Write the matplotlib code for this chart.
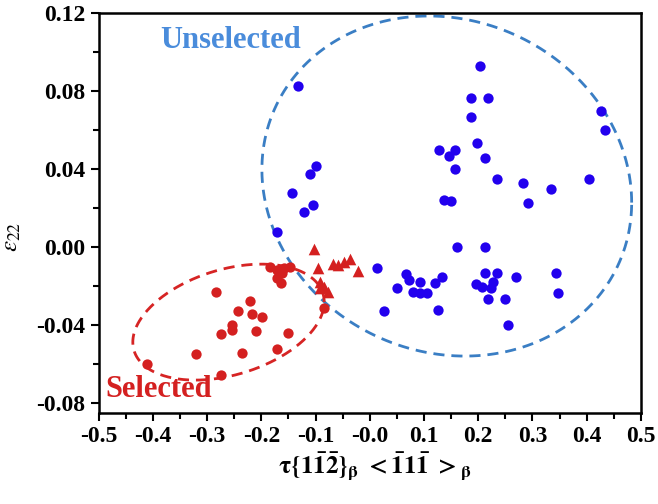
import numpy as np
import matplotlib.pyplot as plt

plt.rcParams['font.family'] = 'Liberation Serif'
plt.rcParams['mathtext.fontset'] = 'stix'

# unselected (blue circles)
blue_x = [-0.132, -0.099, -0.110, -0.143, -0.104, -0.121, -0.171,
          0.203, 0.187, 0.218, 0.187, 0.427, 0.434, 0.198, 0.127, 0.157,
          0.147, 0.213, 0.157, 0.234, 0.282, 0.334, 0.404, 0.292, 0.136,
          0.149, 0.160, 0.212, 0.014, 0.066, 0.073, 0.092, 0.133, 0.120,
          0.051, 0.079, 0.092, 0.106, 0.027, 0.125, 0.213, 0.234, 0.195,
          0.207, 0.227, 0.224, 0.269, 0.218, 0.250, 0.254, 0.343, 0.348]
blue_y = [0.0826, 0.0415, 0.0375, 0.0277, 0.0215, 0.0180, 0.0077,
          0.0930, 0.0764, 0.0764, 0.0665, 0.0700, 0.0600, 0.0535, 0.0497, 0.0497,
          0.0467, 0.0458, 0.0398, 0.0347, 0.0327, 0.0297, 0.0349, 0.0227, 0.0241,
          0.0234, 0.0000, 0.0000, -0.0108, -0.0138, -0.0169, -0.0180, -0.0156, -0.0186,
          -0.0212, -0.0230, -0.0238, -0.0238, -0.0327, -0.0323, -0.0135, -0.0135, -0.0190,
          -0.0203, -0.0178, -0.0212, -0.0156, -0.0268, -0.0265, -0.0402, -0.0135, -0.0238]

# selected (red circles)
red_x = [-0.184, -0.172, -0.159, -0.147, -0.162, -0.172, -0.164, -0.284,
         -0.221, -0.244, -0.217, -0.199, -0.255, -0.255, -0.275, -0.209,
         -0.151, -0.085, -0.321, -0.235, -0.172, -0.410, -0.275]
red_y = [-0.0101, -0.0118, -0.0109, -0.0101, -0.0135, -0.0161, -0.0183, -0.0232,
         -0.0275, -0.0327, -0.0345, -0.0357, -0.0400, -0.0426, -0.0446, -0.0431,
         -0.0439, -0.0311, -0.0549, -0.0545, -0.0525, -0.0602, -0.0656]

# selected (red triangles)
tri_x = [-0.103, -0.095, -0.067, -0.058, -0.048, -0.036, -0.021,
         -0.091, -0.085, -0.078, -0.091]
tri_y = [-0.0010, -0.0106, -0.0089, -0.0092, -0.0075, -0.0063, -0.0121,
         -0.0178, -0.0203, -0.0229, -0.0212]


def ellipse(cx, cy, ux, uy, vy, n=400):
    t = np.linspace(0, 2 * np.pi, n)
    return cx + ux * np.cos(t), cy + uy * np.cos(t) + vy * np.sin(t)


fig = plt.figure(figsize=(6.58, 5.04), dpi=100)
ax = fig.add_axes([0.150, 0.181, 0.824, 0.793])

ex, ey = ellipse(0.142, 0.0313, 0.341, -0.0085, 0.0868)
ax.plot(ex, ey, color='#3a7ec4', lw=2, dashes=(4, 2.5))
ex, ey = ellipse(-0.2606, -0.0385, 0.1765, 0.0103, 0.0279)
ax.plot(ex, ey, color='#d62424', lw=2, dashes=(4, 2.5))

ax.scatter(blue_x, blue_y, s=55, color='#2200ee', zorder=3, lw=0)
ax.scatter(red_x, red_y, s=55, color='#d42020', zorder=3, lw=0)
ax.scatter(tri_x, tri_y, s=70, marker='^', color='#d42020', zorder=3, lw=0)

ax.text(0.2435, 0.932, 'Unselected', transform=ax.transAxes, ha='center', va='center',
        fontsize=22, fontweight='bold', color='#4a8cdb')
ax.text(0.111, 0.057, 'Selected', transform=ax.transAxes, ha='center', va='center',
        fontsize=22, fontweight='bold', color='#d42020')

ax.set_xlim(-0.5, 0.5)
ax.set_ylim(-0.085, 0.12)
ax.set_xticks(np.arange(-0.5, 0.51, 0.1))
ax.set_yticks([-0.08, -0.04, 0.00, 0.04, 0.08, 0.12])
ax.set_xticks(np.arange(-0.45, 0.5, 0.1), minor=True)
ax.set_yticks([-0.06, -0.02, 0.02, 0.06, 0.10], minor=True)
ax.set_xticklabels(['%.1f' % v for v in np.arange(-0.5, 0.51, 0.1)])
ax.set_yticklabels(['-0.08', '-0.04', '0.00', '0.04', '0.08', '0.12'])
ax.tick_params(which='both', direction='out', width=1.5, labelsize=17, top=False, right=False)
ax.tick_params(which='major', length=6)
ax.tick_params(which='minor', length=4)
for lab in ax.get_xticklabels() + ax.get_yticklabels():
    lab.set_fontweight('bold')
for sp in ax.spines.values():
    sp.set_linewidth(1.8)

ax.set_xlabel(r'$\mathbf{\tau\{1\bar{1}\bar{2}\}_{\beta}\ {<}\bar{1}1\bar{1}\ {>}_{\beta}}$', fontsize=18)
ax.xaxis.set_label_coords(0.51, -0.095)
ax.set_ylabel(r'$\varepsilon_{22}$', fontsize=18)
ax.yaxis.set_label_coords(-0.14, 0.44)

fig.savefig('out.png', dpi=100)
